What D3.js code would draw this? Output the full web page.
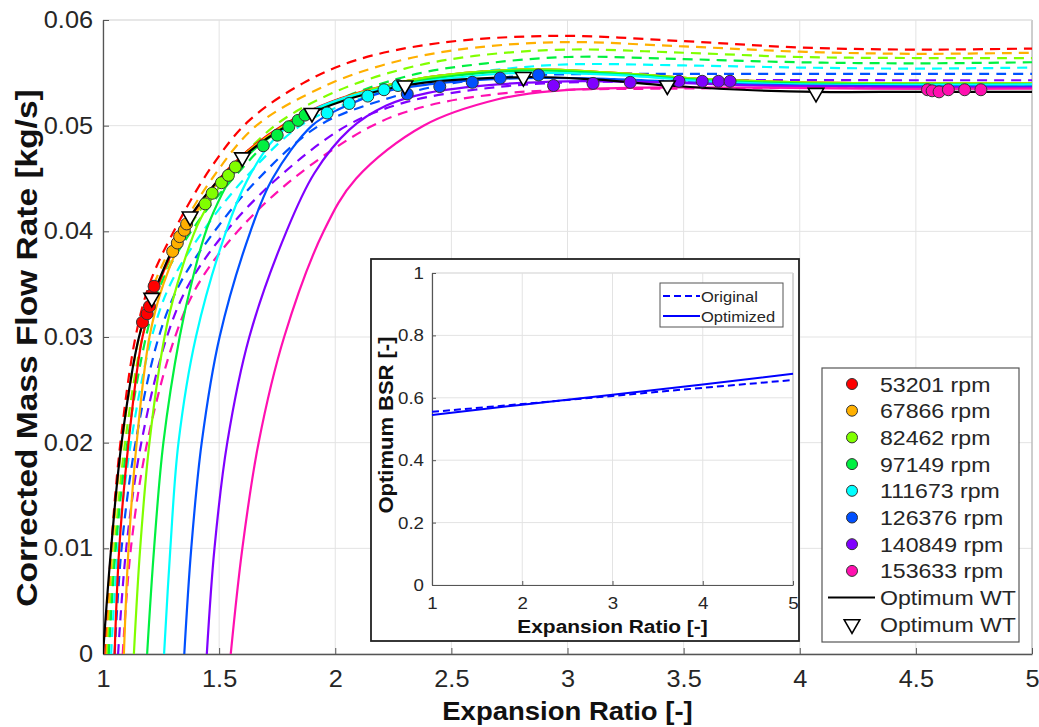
<!DOCTYPE html>
<html><head><meta charset="utf-8">
<script src="https://cdn.jsdelivr.net/npm/d3@7"></script>
<style>body{margin:0;background:#fff}svg{display:block}text{font-family:"Liberation Sans",Arial,sans-serif}</style>
</head><body><svg id="c" width="1039" height="727"></svg>
<script>
// ---------------- DATA ----------------
const speedLabels = ["53201 rpm","67866 rpm","82462 rpm","97149 rpm","111673 rpm","126376 rpm","140849 rpm","153633 rpm"];
const optLineLabel = "Optimum WT";
const optMarkLabel = "Optimum WT";
const xTicks = [1,1.5,2,2.5,3,3.5,4,4.5,5];
const xTickLabels = ["1","1.5","2","2.5","3","3.5","4","4.5","5"];
const yTicks = [0,0.01,0.02,0.03,0.04,0.05,0.06];
const yTickLabels = ["0","0.01","0.02","0.03","0.04","0.05","0.06"];
const xTitle = "Expansion Ratio [-]";
const yTitle = "Corrected Mass Flow Rate [kg/s]";

// original model (dashed)
const origX = [
 [1.01,1.035,1.075,1.14,1.20,1.30,1.47,1.63,1.86,2.09,2.44,2.95,3.5,4.0,4.5,5.0],
 [1.015,1.04,1.082,1.155,1.22,1.33,1.47,1.66,1.95,2.2,2.5,2.95,3.5,4.0,4.5,5.0],
 [1.02,1.05,1.095,1.17,1.24,1.36,1.52,1.74,2.0,2.3,2.6,3.0,3.5,4.0,4.5,5.0],
 [1.025,1.055,1.105,1.185,1.25,1.38,1.56,1.79,2.05,2.35,2.65,3.0,3.5,4.0,4.5,5.0],
 [1.035,1.065,1.12,1.21,1.29,1.43,1.61,1.85,2.1,2.4,2.7,3.0,3.5,4.0,4.5,5.0],
 [1.05,1.08,1.14,1.24,1.33,1.48,1.67,1.93,2.2,2.5,2.8,3.1,3.5,4.0,4.5,5.0],
 [1.065,1.10,1.165,1.275,1.37,1.53,1.75,2.05,2.3,2.6,2.9,3.3,3.8,4.4,5.0],
 [1.085,1.12,1.19,1.31,1.41,1.58,1.82,2.16,2.4,2.7,3.0,3.4,4.0,4.5,5.0]
];
const origY = [
 [0,0.010,0.020,0.030,0.035,0.0398,0.0462,0.0505,0.0540,0.0562,0.0578,0.0585,0.0580,0.0574,0.0572,0.0573],
 [0,0.010,0.020,0.030,0.035,0.040,0.045,0.050,0.0537,0.0557,0.0571,0.0579,0.0575,0.0570,0.0568,0.0569],
 [0,0.010,0.020,0.030,0.035,0.040,0.045,0.050,0.0532,0.0554,0.0566,0.0572,0.0569,0.0565,0.0564,0.0564],
 [0,0.010,0.020,0.030,0.035,0.040,0.045,0.050,0.0528,0.0549,0.0559,0.0565,0.0563,0.0560,0.0559,0.0560],
 [0,0.010,0.020,0.030,0.035,0.040,0.045,0.050,0.0525,0.0544,0.0553,0.0558,0.0557,0.0555,0.0554,0.0555],
 [0,0.010,0.020,0.030,0.035,0.040,0.045,0.050,0.0524,0.0540,0.0547,0.0549,0.0549,0.0549,0.0549,0.0549],
 [0,0.010,0.020,0.030,0.035,0.040,0.045,0.050,0.0522,0.0534,0.0540,0.0542,0.0543,0.0543,0.0543],
 [0,0.010,0.020,0.030,0.035,0.040,0.045,0.050,0.0519,0.0530,0.0534,0.0535,0.0536,0.0537,0.0537]
];
// optimized model (solid)
const optX = [
 [1.05,1.07,1.11,1.17,1.23,1.38,1.60,1.90,2.3,2.8,3.2,3.6,4.0,5.0],
 [1.09,1.11,1.145,1.20,1.26,1.39,1.60,1.90,2.3,2.8,3.2,3.6,4.0,5.0],
 [1.133,1.16,1.20,1.265,1.32,1.42,1.60,1.90,2.3,2.8,3.2,3.6,4.0,5.0],
 [1.19,1.22,1.26,1.33,1.38,1.46,1.60,1.78,2.0,2.3,2.8,3.2,3.6,4.0,5.0],
 [1.263,1.29,1.325,1.40,1.53,1.62,1.74,1.88,2.05,2.25,2.5,2.8,3.2,3.6,4.0,5.0],
 [1.35,1.38,1.425,1.502,1.635,1.73,1.90,2.02,2.21,2.40,2.8,3.2,3.6,4.0,5.0],
 [1.447,1.48,1.535,1.63,1.79,1.91,2.06,2.22,2.40,2.7,3.0,3.4,3.8,4.2,5.0],
 [1.55,1.60,1.67,1.78,1.95,2.09,2.38,2.7,2.95,3.3,3.8,4.3,5.0]
];
const optY = [
 [0,0.010,0.020,0.030,0.0345,0.0414,0.0472,0.0515,0.0542,0.0553,0.0550,0.0544,0.0541,0.0540],
 [0,0.010,0.020,0.030,0.035,0.0414,0.0471,0.0514,0.0542,0.0553,0.0550,0.0544,0.0541,0.0540],
 [0,0.010,0.020,0.030,0.035,0.0412,0.0469,0.0513,0.0542,0.0553,0.0550,0.0544,0.0541,0.0540],
 [0,0.010,0.020,0.030,0.035,0.041,0.0466,0.0498,0.0522,0.0540,0.0552,0.0549,0.0543,0.0540,0.0539],
 [0,0.010,0.020,0.030,0.040,0.0448,0.0488,0.0512,0.0527,0.0537,0.0545,0.0550,0.0548,0.0542,0.0539,0.0539],
 [0,0.010,0.020,0.030,0.040,0.045,0.050,0.0516,0.0532,0.0539,0.0545,0.0544,0.0540,0.0538,0.0537],
 [0,0.010,0.020,0.030,0.040,0.0455,0.0496,0.0519,0.0531,0.0539,0.0542,0.0541,0.0538,0.0537,0.0536],
 [0,0.010,0.020,0.030,0.040,0.045,0.050,0.0525,0.0533,0.0536,0.0536,0.0535,0.0535]
];
// measured points (circles)
const measX = [
 [1.17,1.19,1.20,1.21,1.22],
 [1.30,1.32,1.33,1.35,1.36],
 [1.44,1.47,1.51,1.54,1.57],
 [1.69,1.75,1.80,1.84,1.87],
 [1.965,2.06,2.14,2.21,2.27],
 [2.31,2.45,2.59,2.71,2.875],
 [2.94,3.11,3.27,3.48,3.58,3.65,3.70],
 [4.55,4.57,4.60,4.64,4.71,4.78]
];
const measY = [
 [0.0314,0.0322,0.0329,0.0340,0.0348],
 [0.0381,0.0389,0.0395,0.0401,0.0407],
 [0.0426,0.0436,0.0446,0.0453,0.0461],
 [0.0481,0.0491,0.0499,0.0505,0.0510],
 [0.0512,0.0521,0.0528,0.0534,0.0538],
 [0.0530,0.0537,0.0541,0.0545,0.0548],
 [0.0538,0.0540,0.0541,0.0542,0.0542,0.0542,0.0542],
 [0.0534,0.0533,0.0532,0.0534,0.0534,0.0534]
];
// optimum wheel-tip line and markers
const wtX = [1.00,1.035,1.08,1.155,1.21,1.375,1.60,1.90,2.30,2.81,3.1,3.43,3.75,4.07,4.5,5.0];
const wtY = [0,0.010,0.020,0.030,0.0337,0.0414,0.0470,0.0512,0.0538,0.0546,0.0544,0.0538,0.0534,0.0532,0.0532,0.0532];
const triX = [1.21,1.375,1.60,1.90,2.30,2.81,3.43,4.07];
const triY = [0.0337,0.0414,0.0470,0.0512,0.0538,0.0546,0.0538,0.0531];

// inset
const insetX = [1,2,3,4,5];
const insetOrig = [0.555,0.580,0.606,0.632,0.657];
const insetOpt = [0.545,0.578,0.610,0.643,0.677];
const insetXTicks = [1,2,3,4,5];
const insetXTickLabels = ["1","2","3","4","5"];
const insetYTicks = [0,0.2,0.4,0.6,0.8,1];
const insetYTickLabels = ["0","0.2","0.4","0.6","0.8","1"];
const insetXTitle = "Expansion Ratio [-]";
const insetYTitle = "Optimum BSR [-]";
const insetLegend = ["Original","Optimized"];

// ---------------- STYLE ----------------
const colors = ["#ff0000","#ffb000","#80ff00","#00f040","#00ffff","#0050ff","#8000ff","#ff10b0"];
const SX = 1.1; // horizontal text stretch
const svg = d3.select("#c");
const x = d3.scaleLinear([1,5],[103,1032]);
const y = d3.scaleLinear([0,0.06],[654,20]);
const gridC = "#e3e3e3", axC = "#555", txtC = "#262626";

function stext(g, px, py, s, size, anchor, bold, rot, rs) {
  const t = g.append("text")
    .attr("transform", rot ? `translate(${px},${py}) rotate(-90) scale(1,${rs||1})` : `translate(${px},${py}) scale(${SX},1)`)
    .attr("font-size", size).attr("text-anchor", anchor || "start")
    .attr("fill", bold ? "#111" : txtC).text(s);
  if (bold) t.attr("font-weight", "bold");
  return t;
}

// grid
const grid = svg.append("g");
grid.selectAll(".gx").data(xTicks).join("line").attr("x1", d=>x(d)).attr("x2", d=>x(d)).attr("y1", y(0)).attr("y2", y(0.06)).attr("stroke", gridC);
grid.selectAll(".gy").data(yTicks).join("line").attr("y1", d=>y(d)).attr("y2", d=>y(d)).attr("x1", x(1)).attr("x2", x(5)).attr("stroke", gridC);
svg.append("line").attr("x1",x(5)).attr("x2",x(5)).attr("y1",y(0)).attr("y2",y(0.06)).attr("stroke","#aaa");
svg.append("line").attr("x1",x(1)).attr("x2",x(5)).attr("y1",y(0.06)).attr("y2",y(0.06)).attr("stroke","#ddd");

// axes
const xa = svg.append("g").attr("transform",`translate(0,${y(0)})`)
  .call(d3.axisBottom(x).tickValues(xTicks).tickFormat((d,i)=>xTickLabels[i]).tickSizeInner(-6).tickSizeOuter(0).tickPadding(17));
const ya = svg.append("g").attr("transform",`translate(${x(1)},0)`)
  .call(d3.axisLeft(y).tickValues(yTicks).tickFormat((d,i)=>yTickLabels[i]).tickSizeInner(-6).tickSizeOuter(0).tickPadding(10));
[xa, ya].forEach(a => {
  a.select(".domain").attr("stroke", axC).attr("stroke-width", 1.3);
  a.selectAll(".tick line").attr("stroke", axC);
  a.selectAll(".tick text").attr("font-size", 23).attr("fill", txtC).attr("font-family","Liberation Sans, Arial, sans-serif")
    .attr("transform", `scale(${SX},1)`);
});
ya.selectAll(".tick text").attr("x", -10/SX);
stext(svg, x(3), 720, xTitle, 25, "middle", true);
stext(svg, 37, 348, yTitle, 33.5, "middle", true, true, 0.88);

// clip
svg.append("clipPath").attr("id","pc").append("rect").attr("x",x(1)).attr("y",y(0.06)).attr("width",x(5)-x(1)).attr("height",y(0)-y(0.06));
const plot = svg.append("g").attr("clip-path","url(#pc)");
const line = d3.line().x(d=>x(d[0])).y(d=>y(d[1])).curve(d3.curveCatmullRom.alpha(0.5));

origX.forEach((xs,i) => {
  plot.append("path").attr("d", line(xs.map((v,j)=>[v, origY[i][j]])))
    .attr("fill","none").attr("stroke", colors[i]).attr("stroke-width", 2.2).attr("stroke-dasharray","10,7");
});
optX.forEach((xs,i) => {
  plot.append("path").attr("d", line(xs.map((v,j)=>[v, optY[i][j]])))
    .attr("fill","none").attr("stroke", colors[i]).attr("stroke-width", 2.2);
});
plot.append("path").attr("d", line(wtX.map((v,j)=>[v, wtY[j]])))
  .attr("fill","none").attr("stroke","#000").attr("stroke-width", 2.2);

measX.forEach((xs,i) => {
  plot.append("g").selectAll("circle").data(xs.map((v,j)=>[v, measY[i][j]])).join("circle")
    .attr("cx", d=>x(d[0])).attr("cy", d=>y(d[1])).attr("r", 6)
    .attr("fill", colors[i]).attr("stroke","#333").attr("stroke-width",1);
});
const tri = d3.symbol().type(d3.symbolTriangle).size(105);
plot.append("g").selectAll("path").data(triX.map((v,j)=>[v, triY[j]])).join("path")
  .attr("d", tri).attr("transform", d=>`translate(${x(d[0])},${y(d[1])}) rotate(180)`)
  .attr("fill","#fff").attr("stroke","#000").attr("stroke-width",1.6);

// ---------------- LEGEND ----------------
const lg = svg.append("g");
lg.append("rect").attr("x",822).attr("y",368).attr("width",197).attr("height",274).attr("fill","#fff").attr("stroke","#555").attr("stroke-width",1.2);
speedLabels.forEach((s,i) => {
  const cy = 384 + i*26.7;
  lg.append("circle").attr("cx",852).attr("cy",cy).attr("r",5.5).attr("fill",colors[i]).attr("stroke","#333");
  stext(lg, 880, cy+7.5, s, 21, "start");
});
{
  const cy1 = 384 + 8*26.7, cy2 = 384 + 9*26.7;
  lg.append("line").attr("x1",828).attr("x2",875).attr("y1",cy1).attr("y2",cy1).attr("stroke","#000").attr("stroke-width",2);
  stext(lg, 880, cy1+7.5, optLineLabel, 21, "start");
  lg.append("path").attr("d", tri).attr("transform",`translate(852,${cy2}) rotate(180)`).attr("fill","#fff").attr("stroke","#000").attr("stroke-width",1.6);
  stext(lg, 880, cy2+7.5, optMarkLabel, 21, "start");
}

// ---------------- INSET ----------------
const ins = svg.append("g");
ins.append("rect").attr("x",371).attr("y",259).attr("width",428).attr("height",382).attr("fill","#fff").attr("stroke","#222").attr("stroke-width",1.8);
const ix = d3.scaleLinear([1,5],[432,793]);
const iy = d3.scaleLinear([0,1],[585,273]);
ins.selectAll(".igx").data(insetXTicks).join("line").attr("x1",d=>ix(d)).attr("x2",d=>ix(d)).attr("y1",iy(0)).attr("y2",iy(1)).attr("stroke",gridC);
ins.selectAll(".igy").data(insetYTicks).join("line").attr("y1",d=>iy(d)).attr("y2",d=>iy(d)).attr("x1",ix(1)).attr("x2",ix(5)).attr("stroke",gridC);
ins.append("line").attr("x1",ix(5)).attr("x2",ix(5)).attr("y1",iy(0)).attr("y2",iy(1)).attr("stroke","#bbb");
ins.append("line").attr("x1",ix(1)).attr("x2",ix(5)).attr("y1",iy(1)).attr("y2",iy(1)).attr("stroke","#ddd");
const ixa = ins.append("g").attr("transform",`translate(0,${iy(0)})`)
  .call(d3.axisBottom(ix).tickValues(insetXTicks).tickFormat((d,i)=>insetXTickLabels[i]).tickSizeInner(-4).tickSizeOuter(0).tickPadding(12));
const iya = ins.append("g").attr("transform",`translate(${ix(1)},0)`)
  .call(d3.axisLeft(iy).tickValues(insetYTicks).tickFormat((d,i)=>insetYTickLabels[i]).tickSizeInner(-4).tickSizeOuter(0).tickPadding(8));
[ixa, iya].forEach(a => {
  a.select(".domain").attr("stroke", axC).attr("stroke-width", 1.2);
  a.selectAll(".tick line").attr("stroke", axC);
  a.selectAll(".tick text").attr("font-size", 17).attr("fill", txtC).attr("font-family","Liberation Sans, Arial, sans-serif")
    .attr("transform", `scale(${SX},1)`);
});
iya.selectAll(".tick text").attr("x", -8/SX);
stext(ins, ix(3), 633, insetXTitle, 19, "middle", true);
stext(ins, 393, 425, insetYTitle, 22, "middle", true, true, 0.95);
const iline = d3.line().x(d=>ix(d[0])).y(d=>iy(d[1]));
ins.append("path").attr("d", iline(insetX.map((v,j)=>[v, insetOrig[j]]))).attr("fill","none").attr("stroke","#0000ff").attr("stroke-width",2).attr("stroke-dasharray","7,4");
ins.append("path").attr("d", iline(insetX.map((v,j)=>[v, insetOpt[j]]))).attr("fill","none").attr("stroke","#0000ff").attr("stroke-width",2);
ins.append("rect").attr("x",660).attr("y",283).attr("width",123).attr("height",44).attr("fill","#fff").attr("stroke","#555");
ins.append("line").attr("x1",663).attr("x2",700).attr("y1",296).attr("y2",296).attr("stroke","#0000ff").attr("stroke-width",2).attr("stroke-dasharray","7,4");
ins.append("line").attr("x1",663).attr("x2",700).attr("y1",316).attr("y2",316).attr("stroke","#0000ff").attr("stroke-width",2);
stext(ins, 701, 301.5, insetLegend[0], 15, "start");
stext(ins, 701, 321.5, insetLegend[1], 15, "start");
</script></body></html>
